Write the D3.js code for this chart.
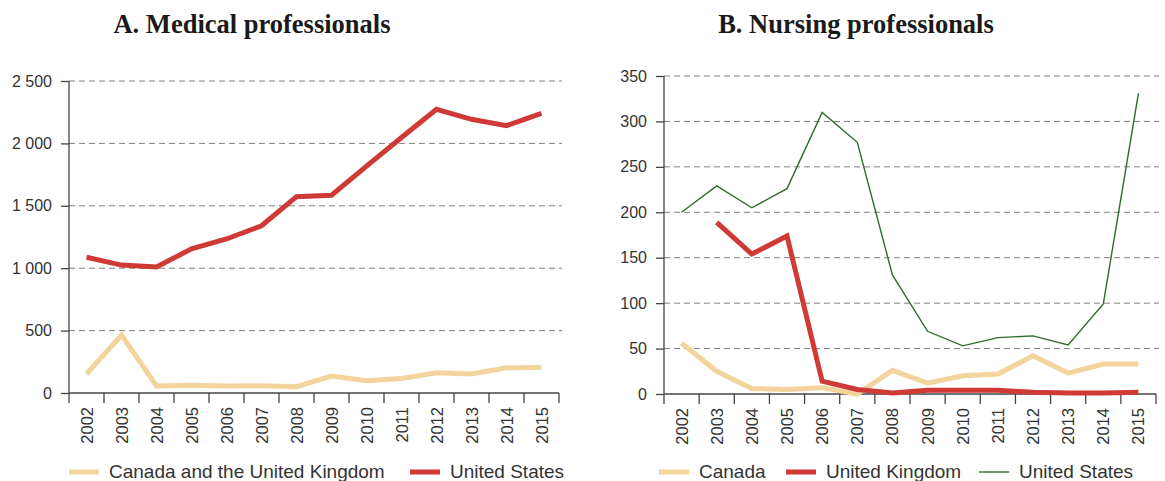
<html>
<head>
<script src="https://d3js.org/d3.v7.min.js"></script>
<style>
  body { margin: 0; background: #fff; }
  text { font-family: "Liberation Sans", Arial, sans-serif; fill: #333; }
  .title { font-family: "Liberation Serif", "Times New Roman", serif; font-weight: bold; fill: #1a1a1a; }
</style>
</head>
<body>
<script type="text/javascript">
    ////////////////// data //////////////////
    var years = ["2002", "2003", "2004", "2005", "2006", "2007", "2008",
                 "2009", "2010", "2011", "2012", "2013", "2014", "2015"];

    // A. Medical professionals
    var medCanadaUK = [152, 465, 56, 62, 56, 58, 50, 136, 99, 117, 163, 152, 203, 205];
    var medUS = [1088, 1025, 1010, 1155, 1234, 1340, 1573, 1585, 1818, 2047, 2273, 2193, 2142, 2241];
    var medTicks = [0, 500, 1000, 1500, 2000, 2500];

    // B. Nursing professionals (UK has no 2002 value)
    var nurCanada = [56, 25, 6, 5, 7, 0, 26, 12, 20, 22, 42, 23, 33, 33];
    var nurUK = [null, 189, 154, 174, 14, 5, 1, 4, 4, 4, 2, 1, 1, 2];
    var nurUS = [200, 229, 205, 226, 310, 277, 131, 69, 53, 62, 64, 54, 99, 331];
    var nurTicks = [0, 50, 100, 150, 200, 250, 300, 350];

    ////////////////// settings //////////////////
    var svgWidth = 1165;
    var svgHeight = 481;
    var colYellow = "#f2d49c";
    var colRed = "#cf3a36";
    var colGreen = "#2f6b2b";

    var fmt = d3.formatLocale({decimal: ".", thousands: " ", grouping: [3], currency: ["", ""]}).format(",");

    var svg = d3.select("body").append("svg")
        .attr("width", svgWidth)
        .attr("height", svgHeight);

    drawPanel({
        title: "A. Medical professionals", titleX: 252,
        left: 69, right: 559, top: 81, bottom: 393,
        max: 2500, ticks: medTicks,
        series: [
            {name: "Canada and the United Kingdom", values: medCanadaUK, color: colYellow, width: 5, lx: 69},
            {name: "United States", values: medUS, color: colRed, width: 5, lx: 410}
        ]
    });

    drawPanel({
        title: "B. Nursing professionals", titleX: 856,
        left: 664, right: 1156, top: 76, bottom: 394,
        max: 350, ticks: nurTicks,
        series: [
            {name: "Canada", values: nurCanada, color: colYellow, width: 5, lx: 659},
            {name: "United Kingdom", values: nurUK, color: colRed, width: 5, lx: 786},
            {name: "United States", values: nurUS, color: colGreen, width: 1.4, lx: 979}
        ]
    });

    function drawPanel(p) {
        var g = svg.append("g");

        var x = d3.scaleBand().domain(years).range([p.left, p.right]);
        var y = d3.scaleLinear().domain([0, p.max]).range([p.bottom, p.top]);
        var cx = function (yr) { return x(yr) + x.bandwidth() / 2; };

        g.append("text")
            .attr("class", "title")
            .attr("x", p.titleX)
            .attr("y", 33)
            .attr("text-anchor", "middle")
            .style("font-size", "26.5px")
            .text(p.title);

        // gridlines (dashed)
        g.selectAll(".grid")
            .data(p.ticks.filter(function (t) { return t > 0; }))
            .enter().append("line")
            .attr("x1", p.left).attr("x2", p.right + 3)
            .attr("y1", function (d) { return y(d); })
            .attr("y2", function (d) { return y(d); })
            .attr("stroke", "#7f7f7f")
            .attr("stroke-width", 1)
            .attr("stroke-dasharray", "6,4");

        // y axis
        var yAxis = d3.axisLeft(y).tickValues(p.ticks).tickSize(8).tickPadding(9).tickFormat(fmt);
        var ya = g.append("g").attr("transform", "translate(" + p.left + ",0)").call(yAxis);
        ya.select(".domain").attr("stroke", "#444").attr("stroke-width", 1.3).attr("d", "M0," + p.top + "V" + p.bottom);
        ya.selectAll(".tick line").attr("stroke", "#444").attr("stroke-width", 1.3);
        ya.selectAll("text").style("font-size", "16px").attr("fill", "#333").attr("font-family", null);

        // x axis: ticks on band edges, labels on band centres
        g.append("line")
            .attr("x1", p.left).attr("x2", p.right)
            .attr("y1", p.bottom).attr("y2", p.bottom)
            .attr("stroke", "#444").attr("stroke-width", 1.3);
        var edges = years.map(function (yr) { return x(yr); }).concat([p.right]);
        g.selectAll(".xtick")
            .data(edges)
            .enter().append("line")
            .attr("x1", function (d) { return d; }).attr("x2", function (d) { return d; })
            .attr("y1", p.bottom).attr("y2", p.bottom + 10)
            .attr("stroke", "#444").attr("stroke-width", 1.3);
        g.selectAll(".xlab")
            .data(years)
            .enter().append("text")
            .attr("transform", function (d) { return "translate(" + (cx(d) + 6) + "," + (p.bottom + 14) + ") rotate(-90)"; })
            .attr("text-anchor", "end")
            .style("font-size", "16.5px")
            .text(function (d) { return d; });

        // lines
        var line = d3.line()
            .defined(function (d) { return d != null; })
            .x(function (d, i) { return cx(years[i]); })
            .y(function (d) { return y(d); });

        p.series.forEach(function (s) {
            g.append("path")
                .datum(s.values)
                .attr("fill", "none")
                .attr("stroke", s.color)
                .attr("stroke-width", s.width)
                .attr("stroke-linejoin", "miter")
                .attr("d", line);

            // legend
            g.append("line")
                .attr("x1", s.lx).attr("x2", s.lx + 30)
                .attr("y1", 472).attr("y2", 472)
                .attr("stroke", s.color)
                .attr("stroke-width", s.width);
            g.append("text")
                .attr("x", s.lx + 40)
                .attr("y", 478)
                .style("font-size", "19px")
                .text(s.name);
        });
    }
</script>
</body>
</html>
